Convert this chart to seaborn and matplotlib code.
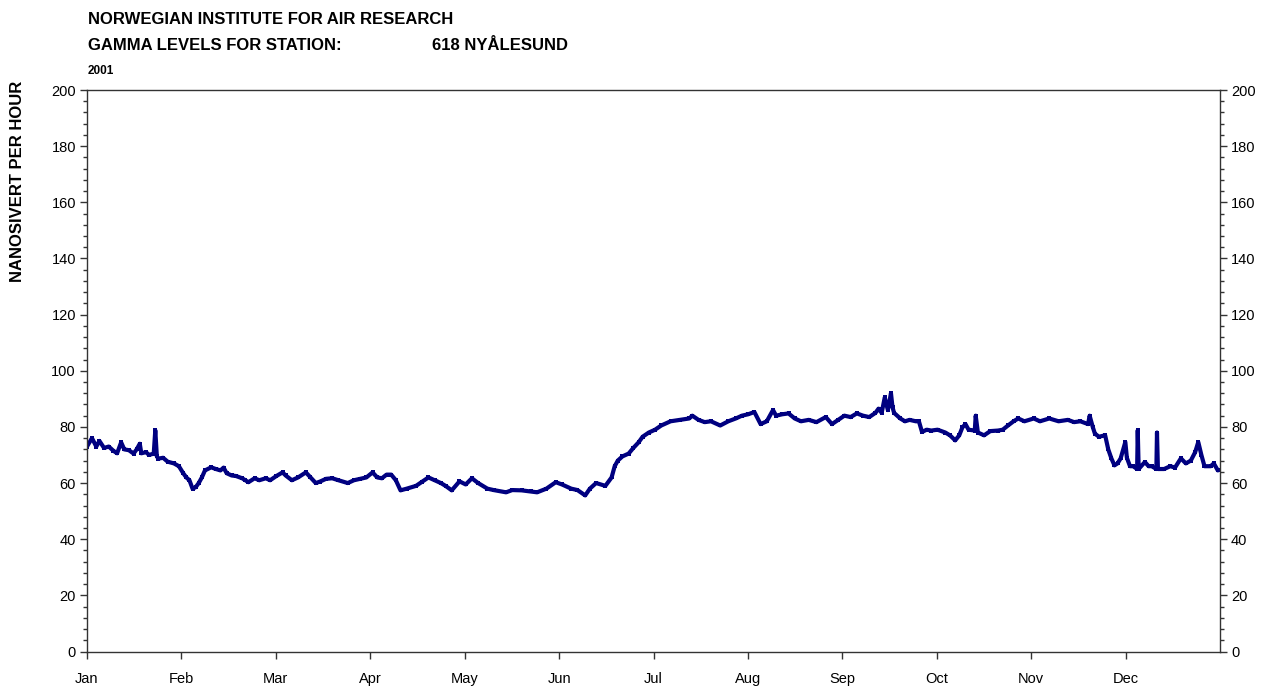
import matplotlib
matplotlib.use("Agg")
import matplotlib.pyplot as plt
import seaborn as sns
import pandas as pd
import numpy as np
from matplotlib.ticker import MultipleLocator, FixedLocator

sns.set_theme(style="white")
plt.rcParams['font.family'] = ['Liberation Sans', 'DejaVu Sans']
plt.rcParams['text.color'] = 'black'

# Day of year (0 = 1 Jan) and gamma dose rate (nSv/h)
days = [0, 1.6, 3, 4, 5.5, 7, 8.5, 9.7, 11, 12, 13.5, 15, 16, 17, 17.5, 19, 20, 21.5, 22, 22.5,
        23, 24.5, 26, 28, 29.6, 31, 32, 33, 34, 35, 36, 37, 38, 40, 41.5, 43, 44, 45, 46.6, 48,
        50, 51, 52, 54, 55.5, 57.6, 59, 61, 63, 64, 66, 68, 70.5, 72, 73.7, 75, 77, 79, 81, 84,
        86, 88, 90, 92, 93.5, 95, 96.5, 98, 99.5, 101, 103, 106, 108, 110, 112, 114, 115.5, 117.5, 120, 122,
        124, 126, 129, 131, 135, 137, 140, 143, 145, 148, 151, 153, 156, 158, 160.5, 162, 164, 167, 169, 170,
        171, 172.5, 174.5, 176, 177.7, 179, 181, 183, 185, 188, 191, 194, 195, 197, 199, 201, 204, 206.6, 209, 211,
        213, 215, 217, 219, 221, 222, 224, 226, 228, 230, 232.5, 235, 238, 240, 242, 244, 246, 248, 250, 252,
        254, 255, 256, 257, 258, 259, 259.5, 260, 262, 263.5, 265, 267, 268, 269, 270.5, 272, 274, 276.5, 278, 279.7,
        281, 282, 283, 284, 286, 286.3, 287, 289, 291, 293.5, 295, 296.7, 298.5, 300, 302, 305, 307, 310, 313, 316,
        318, 320, 322.5, 323, 324, 324.7, 326, 328, 329, 330, 331, 332, 333, 334.5, 335, 336, 337, 338.3, 338.5, 338.8,
        340.8, 342, 343, 344.5, 344.7, 345, 347, 349, 350.5, 352.4, 354, 355.6, 357, 358, 359, 360, 362, 363, 364.3]
values = [73, 76, 73, 75, 72.5, 73, 71.5, 70.6, 74.5, 72, 71.7, 70.5, 72, 74, 70.6, 71, 70, 70.5, 78.8, 69.5,
          68.7, 69, 67.6, 67, 66, 63.5, 62, 61, 58, 58.5, 60, 62, 64.5, 65.6, 65, 64.5, 65.5, 63.5, 62.7, 62.5,
          61.7, 61, 60.3, 61.7, 61, 61.7, 61, 62.5, 63.8, 62.7, 61, 62, 63.8, 62, 60, 60.5, 61.5, 61.7, 61, 60,
          61, 61.5, 62, 63.8, 62, 61.7, 63, 63, 61, 57.4, 58, 59, 60.5, 62, 61, 60, 59, 57.4, 60.6, 59.5,
          61.7, 60, 58, 57.5, 56.7, 57.5, 57.4, 57, 56.7, 58, 60.3, 59.5, 58, 57.5, 55.6, 58, 60, 59, 62, 66,
          68, 69.5, 70.5, 72.5, 74.5, 76.5, 78, 79, 80.5, 82, 82.5, 83, 84, 82.5, 81.7, 82, 80.5, 82, 83, 84,
          84.5, 85.3, 81, 82, 86, 84, 84.5, 84.8, 83, 82, 82.5, 81.7, 83.5, 81, 82.5, 84, 83.5, 84.8, 84, 83.5,
          85, 86.5, 85, 90.5, 86, 92, 87, 85, 83, 82, 82.5, 82, 82, 78.2, 79, 78.7, 79, 78, 77, 75.2,
          77, 79.8, 81, 79, 78.7, 84, 78, 77, 78.5, 78.7, 79, 80.5, 82, 83, 82, 83, 82, 83, 82, 82.5,
          81.7, 82, 81, 84, 80, 77.6, 76.5, 77, 72, 68.8, 66.3, 67, 68.8, 74.6, 69, 66, 66, 65, 78.8, 65,
          67.5, 66, 66, 65, 78, 65, 65, 66, 65.5, 68.8, 67, 68, 71, 74.6, 70, 66, 66, 67, 64.5]

months = ["Jan", "Feb", "Mar", "Apr", "May", "Jun", "Jul", "Aug", "Sep", "Oct", "Nov", "Dec"]

df = pd.DataFrame({"day": days, "nsv": values})

W, H = 1265, 688
fig = plt.figure(figsize=(W / 100, H / 100), dpi=100)
ax = fig.add_axes([87 / W, 1 - 651.5 / H, (1220 - 87) / W, (651.5 - 90) / H])

sns.lineplot(data=df, x="day", y="nsv", ax=ax, color="#000080", linewidth=3.0,
             marker="s", markersize=3.2, markeredgewidth=0, estimator=None, sort=False)

ax.set_xlim(0, 365)
ax.set_ylim(0, 200)
ax.set_xlabel("")
ax.set_ylabel("")

ax.xaxis.set_major_locator(FixedLocator([i * 365 / 12 for i in range(12)]))
ax.set_xticklabels(months)
ax.yaxis.set_major_locator(MultipleLocator(20))
ax.yaxis.set_minor_locator(MultipleLocator(4))

for s in ax.spines.values():
    s.set_color("#333333")
    s.set_linewidth(1.0)

ax.tick_params(axis="x", which="major", direction="out", length=5, width=1, color="#333333",
               bottom=True, labelsize=10.5, pad=10, labelcolor="black")
ax.tick_params(axis="y", which="major", direction="out", length=5, width=1, color="#333333",
               left=True, right=True, labelleft=True, labelright=True, labelsize=10.5, pad=3,
               labelcolor="black")
ax.tick_params(axis="y", which="minor", direction="out", length=3, width=1, color="#333333",
               left=True, right=True)
ax.grid(False)

fig.text(88 / W, 1 - 20 / H, "NORWEGIAN INSTITUTE FOR AIR RESEARCH", fontsize=12,
         fontweight="bold", ha="left", va="center", color="black")
fig.text(88 / W, 1 - 46 / H, "GAMMA LEVELS FOR STATION:", fontsize=12,
         fontweight="bold", ha="left", va="center", color="black")
fig.text(432 / W, 1 - 46 / H, "618 NYÅLESUND", fontsize=12,
         fontweight="bold", ha="left", va="center", color="black")
fig.text(88 / W, 1 - 71 / H, "2001", fontsize=8.5, fontweight="bold", ha="left", va="center",
         color="black")
fig.text(18 / W, 1 - 181 / H, "NANOSIVERT PER HOUR", fontsize=12, fontweight="bold",
         rotation=90, ha="center", va="center", color="black")

fig.savefig("out.png", dpi=100)
